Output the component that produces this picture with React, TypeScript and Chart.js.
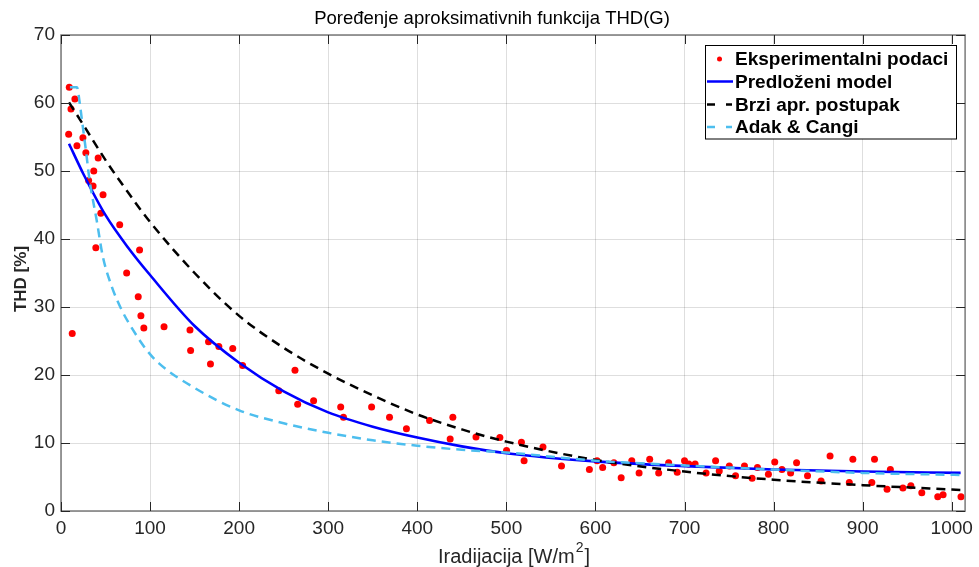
import React, { useEffect, useRef } from "react";
import { Chart, registerables } from "chart.js";
Chart.register(...registerables);

// Experimental data (irradiance W/m2, THD %)
const expX = [8.6, 9.3, 11.2, 12.6, 15.6, 17.9, 24.6, 27.9, 31.0, 36.0, 36.8, 39.1, 41.7, 44.7, 47.2, 65.9, 73.7, 86.7, 88.2, 89.7, 93.0, 115.7, 144.8, 145.5, 165.6, 167.8, 177.2, 192.8, 203.9, 244.5, 262.7, 265.7, 283.6, 314.0, 317.1, 348.7, 368.8, 387.8, 413.8, 436.9, 439.9, 465.9, 492.7, 500.2, 516.9, 519.9, 541.1, 561.9, 593.2, 601.8, 608.1, 620.7, 628.9, 640.8, 649.0, 660.9, 671.0, 682.2, 691.8, 700.0, 704.8, 711.9, 724.2, 734.9, 739.0, 750.3, 757.3, 767.3, 775.9, 781.9, 794.2, 801.3, 809.4, 819.1, 825.8, 838.1, 853.3, 863.4, 885.0, 889.0, 910.3, 913.3, 927.4, 931.1, 945.2, 954.1, 966.4, 984.3, 990.3, 1010.4];
const expY = [55.4, 62.3, 59.1, 26.1, 60.6, 53.7, 54.9, 52.7, 48.6, 47.8, 50.0, 38.7, 51.9, 43.8, 46.5, 42.1, 35.0, 31.5, 38.4, 28.7, 26.9, 27.1, 26.6, 23.6, 24.9, 21.6, 24.2, 23.9, 21.4, 17.7, 20.7, 15.7, 16.2, 15.3, 13.8, 15.3, 13.8, 12.1, 13.3, 10.6, 13.8, 10.9, 10.8, 8.9, 10.1, 7.4, 9.4, 6.6, 6.1, 7.4, 6.4, 7.1, 4.9, 7.4, 5.6, 7.6, 5.6, 7.1, 5.7, 7.4, 6.9, 6.9, 5.6, 7.4, 5.9, 6.6, 5.2, 6.6, 4.8, 6.4, 5.4, 7.2, 6.1, 5.6, 7.1, 5.2, 4.4, 8.1, 4.2, 7.6, 4.2, 7.6, 3.2, 6.1, 3.4, 3.7, 2.7, 2.1, 2.4, 2.1];

// Predloženi model
const modelX = [9, 25, 50, 75, 100, 150, 200, 250, 300, 350, 400, 450, 500, 600, 700, 800, 900, 1010];
const modelY = [54.0, 49.6, 43.5, 38.8, 34.7, 27.2, 21.8, 17.6, 14.5, 12.4, 10.8, 9.5, 8.5, 7.3, 6.6, 6.1, 5.8, 5.6];

// Brzi apr. postupak
const brziX = [9, 25, 50, 75, 100, 150, 200, 250, 300, 350, 400, 450, 500, 600, 700, 800, 900, 1010];
const brziY = [60.1, 56.8, 51.6, 46.9, 42.5, 35.0, 28.7, 24.0, 20.2, 17.0, 14.2, 12.0, 10.2, 7.5, 5.8, 4.6, 3.8, 3.1];

// Adak & Cangi
const adakX = [10, 18, 21, 24, 28, 32, 40, 47, 57, 68, 81, 96, 110, 150, 200, 250, 300, 350, 400, 450, 500, 600, 700, 800, 900, 1010];
const adakY = [62.3, 62.3, 60.0, 57.0, 53.0, 48.7, 42.8, 37.4, 33.0, 29.6, 26.6, 23.7, 21.7, 18.1, 14.8, 12.9, 11.5, 10.4, 9.6, 9.0, 8.6, 7.4, 6.7, 6.1, 5.6, 5.3];

const xTicks = [0, 100, 200, 300, 400, 500, 600, 700, 800, 900, 1000];
const yTicks = [0, 10, 20, 30, 40, 50, 60, 70];

const titleText = "Poređenje aproksimativnih funkcija THD(G)";
const xLabelMain = "Iradijacija [W/m";
const xLabelSup = "2";
const xLabelEnd = "]";
const yLabel = "THD [%]";
const legendLabels = ["Eksperimentalni podaci", "Predloženi model", "Brzi apr. postupak", "Adak & Cangi"];

const RED = "#ff0000";
const BLUE = "#0000ff";
const BLACK = "#000000";
const LIGHT = "#4dbeee";
const FONT = "'Liberation Sans', Arial, sans-serif";

const toPts = (xs: number[], ys: number[]) => xs.map((x, i) => ({ x, y: ys[i] }));

const decor = {
  id: "decor",
  afterDatasetsDraw(chart: any) {
    const { ctx, chartArea: a, scales } = chart;
    const xs = scales.x, ys = scales.y;
    ctx.save();
    ctx.strokeStyle = "#7a7a7a";
    ctx.lineWidth = 1.5;
    ctx.strokeRect(a.left, a.top, a.right - a.left, a.bottom - a.top);
    ctx.strokeStyle = "#262626";
    ctx.lineWidth = 1;
    const tl = 9;
    ctx.beginPath();
    xTicks.forEach((t) => {
      const px = Math.round(xs.getPixelForValue(t)) + 0.5;
      ctx.moveTo(px, a.bottom); ctx.lineTo(px, a.bottom - tl);
      ctx.moveTo(px, a.top); ctx.lineTo(px, a.top + tl);
    });
    yTicks.forEach((t) => {
      const py = Math.round(ys.getPixelForValue(t)) + 0.5;
      ctx.moveTo(a.left, py); ctx.lineTo(a.left + tl, py);
      ctx.moveTo(a.right, py); ctx.lineTo(a.right - tl, py);
    });
    ctx.stroke();
    ctx.restore();
  },
  afterDraw(chart: any) {
    const { ctx, chartArea: a } = chart;
    ctx.save();
    // title
    ctx.fillStyle = "#000";
    ctx.font = `18.5px ${FONT}`;
    ctx.textAlign = "center";
    ctx.textBaseline = "alphabetic";
    ctx.fillText(titleText, 492, 24);

    // x label with superscript
    ctx.fillStyle = "#262626";
    ctx.font = `20px ${FONT}`;
    const w1 = ctx.measureText(xLabelMain).width;
    ctx.font = `14px ${FONT}`;
    const w2 = ctx.measureText(xLabelSup).width;
    ctx.font = `20px ${FONT}`;
    const w3 = ctx.measureText(xLabelEnd).width;
    const total = w1 + w2 + 2 + w3;
    let sx = 514 - total / 2;
    ctx.textAlign = "left";
    ctx.fillText(xLabelMain, sx, 563);
    sx += w1 + 1;
    ctx.font = `14px ${FONT}`;
    ctx.fillText(xLabelSup, sx, 552);
    sx += w2 + 1;
    ctx.font = `20px ${FONT}`;
    ctx.fillText(xLabelEnd, sx, 563);

    // y label
    ctx.save();
    ctx.translate(26, 279);
    ctx.rotate(-Math.PI / 2);
    ctx.font = `bold 17px ${FONT}`;
    ctx.textAlign = "center";
    ctx.fillText(yLabel, 0, 0);
    ctx.restore();

    // legend
    const lx = 705.5, ly = 45.5, lw = 251, lh = 93.5;
    ctx.fillStyle = "#fff";
    ctx.fillRect(lx, ly, lw, lh);
    ctx.strokeStyle = "#000";
    ctx.lineWidth = 1;
    ctx.strokeRect(lx, ly, lw, lh);
    const rows = [59, 81.5, 104.5, 127];
    ctx.font = `bold 19px ${FONT}`;
    ctx.textBaseline = "middle";
    ctx.fillStyle = "#000";
    legendLabels.forEach((lab, i) => {
      ctx.fillText(lab, 735, rows[i] + 1);
    });
    ctx.fillStyle = RED;
    ctx.beginPath();
    ctx.arc(719.5, rows[0], 2.5, 0, Math.PI * 2);
    ctx.fill();
    ctx.lineWidth = 2.5;
    ctx.strokeStyle = BLUE;
    ctx.beginPath();
    ctx.moveTo(707, rows[1]); ctx.lineTo(733, rows[1]);
    ctx.stroke();
    [[BLACK, rows[2]], [LIGHT, rows[3]]].forEach(([c, y]: any) => {
      ctx.strokeStyle = c;
      ctx.lineWidth = 2.5;
      ctx.beginPath();
      ctx.moveTo(707, y); ctx.lineTo(715, y);
      ctx.moveTo(726, y); ctx.lineTo(732, y);
      ctx.stroke();
    });
    ctx.restore();
  },
};

export default function App() {
  const ref = useRef<HTMLCanvasElement>(null);
  useEffect(() => {
    if (!ref.current) return;
    const chart = new Chart(ref.current, {
      type: "line",
      data: {
        datasets: [
          {
            label: legendLabels[0],
            data: toPts(expX, expY),
            showLine: false,
            pointRadius: 3.5,
            pointBackgroundColor: RED,
            pointBorderWidth: 0,
            borderColor: RED,
            order: 4,
          },
          {
            label: legendLabels[1],
            data: toPts(modelX, modelY),
            borderColor: BLUE,
            borderWidth: 2.6,
            pointRadius: 0,
            cubicInterpolationMode: "monotone",
            order: 3,
          },
          {
            label: legendLabels[2],
            data: toPts(brziX, brziY),
            borderColor: BLACK,
            borderWidth: 2.5,
            borderDash: [9, 6],
            pointRadius: 0,
            cubicInterpolationMode: "monotone",
            order: 2,
          },
          {
            label: legendLabels[3],
            data: toPts(adakX, adakY),
            borderColor: LIGHT,
            borderWidth: 2.5,
            borderDash: [9, 6],
            pointRadius: 0,
            cubicInterpolationMode: "monotone",
            order: 1,
          },
        ] as any,
      },
      options: {
        responsive: false,
        animation: false,
        layout: { padding: { top: 35, right: 9, left: 0, bottom: 0 } },
        plugins: { legend: { display: false }, title: { display: false }, tooltip: { enabled: false } },
        scales: {
          x: {
            type: "linear",
            min: 0,
            max: 1015,
            afterFit: (s: any) => { s.height = 56; },
            afterBuildTicks: (s: any) => { s.ticks = xTicks.map((v) => ({ value: v })); },
            ticks: { font: { family: FONT, size: 19 }, color: "#262626", padding: 6, maxRotation: 0, autoSkip: false, callback: (v: any) => String(v) },
            grid: { color: "rgba(0,0,0,0.13)", lineWidth: 1, drawTicks: false },
            border: { display: false },
          },
          y: {
            type: "linear",
            min: 0,
            max: 70,
            afterFit: (s: any) => { s.width = 61; },
            afterBuildTicks: (s: any) => { s.ticks = yTicks.map((v) => ({ value: v })); },
            ticks: { font: { family: FONT, size: 19 }, color: "#262626", padding: 6, callback: (v: any) => String(v) },
            grid: { color: "rgba(0,0,0,0.13)", lineWidth: 1, drawTicks: false },
            border: { display: false },
          },
        },
      },
      plugins: [decor],
    });
    return () => chart.destroy();
  }, []);
  return (
    <div style={{ position: "fixed", left: 0, top: 0, width: 979, height: 567, background: "#fff" }}>
      <canvas ref={ref} width={979} height={567} style={{ display: "block" }} />
    </div>
  );
}
